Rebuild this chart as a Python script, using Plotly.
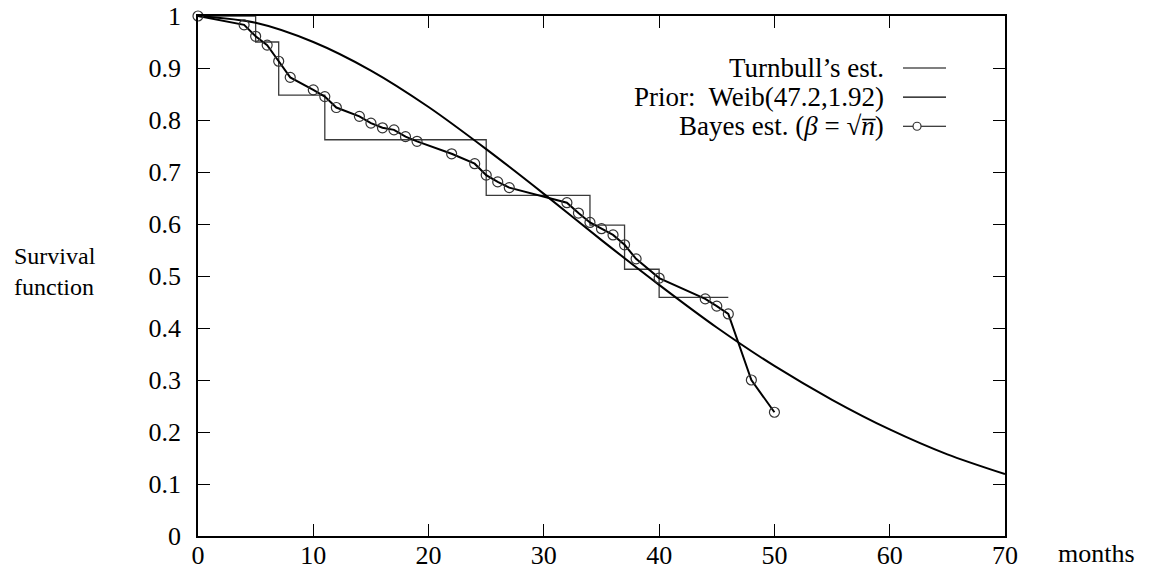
import plotly.graph_objects as go

# Turnbull's nonparametric estimate (step function)
turnbull_months = [0, 5, 7, 11, 25, 34, 37, 40, 46]
turnbull_surv = [1.0, 0.950, 0.848, 0.762, 0.655, 0.598, 0.513, 0.459, 0.459]

# Weibull prior survival curve, sampled every 5 months
prior_months = [0, 5, 10, 15, 20, 25, 30, 35, 40, 45, 50, 55, 60, 65, 70]
prior_surv = [1.0, 0.987, 0.950, 0.895, 0.825, 0.744, 0.658, 0.569,
              0.483, 0.401, 0.327, 0.262, 0.205, 0.157, 0.119]

# Bayes estimate with beta = sqrt(n)
bayes_months = [0, 4, 5, 6, 7, 8, 10, 11, 12, 14, 15, 16, 17, 18, 19, 22, 24,
                25, 26, 27, 32, 33, 34, 35, 36, 37, 38, 40, 44, 45, 46, 48, 50]
bayes_surv = [1.0, 0.983, 0.961, 0.944, 0.913, 0.882, 0.858, 0.845, 0.824,
              0.807, 0.794, 0.785, 0.781, 0.768, 0.759, 0.735, 0.716, 0.694,
              0.681, 0.670, 0.641, 0.621, 0.603, 0.591, 0.579, 0.560, 0.533,
              0.496, 0.456, 0.442, 0.427, 0.300, 0.238]

x_ticks = [0, 10, 20, 30, 40, 50, 60, 70]
y_ticks = [0, 0.1, 0.2, 0.3, 0.4, 0.5, 0.6, 0.7, 0.8, 0.9, 1]

legend_labels = ["Turnbull\u2019s est.", "Prior:  Weib(47.2,1.92)",
                 "Bayes est. (<i>\u03b2</i> = \u221a<i>n\u0305</i>)"]

FONT = "Liberation Serif"
FS = 26

fig = go.Figure()
fig.add_trace(go.Scatter(x=turnbull_months, y=turnbull_surv, mode="lines",
                         line=dict(color="#3a3a3a", width=1.3, shape="hv"),
                         cliponaxis=False, showlegend=False))
fig.add_trace(go.Scatter(x=prior_months, y=prior_surv, mode="lines",
                         line=dict(color="black", width=2, shape="spline", smoothing=0.8),
                         showlegend=False))
fig.add_trace(go.Scatter(x=bayes_months, y=bayes_surv, mode="lines+markers",
                         line=dict(color="black", width=2),
                         marker=dict(symbol="circle-open", size=10,
                                     color="#333333", line=dict(width=1.2)),
                         cliponaxis=False, showlegend=False))

axis_common = dict(showline=True, mirror="allticks", linecolor="black", linewidth=1.5,
                   ticks="inside", ticklen=12, tickwidth=1.2, tickcolor="black",
                   showgrid=False, zeroline=False, automargin=False,
                   tickfont=dict(family=FONT, size=FS, color="black"))

fig.update_xaxes(range=[0, 70], tickvals=x_ticks, ticktext=[str(v) for v in x_ticks],
                 ticklabelstandoff=-5, **axis_common)
fig.update_yaxes(range=[0, 1], tickvals=y_ticks,
                 ticktext=[("%g" % v) for v in y_ticks],
                 ticklabelstandoff=10, **axis_common)

# Legend: right-aligned labels with line samples on the right
rows_y = [0.900, 0.844, 0.788]
for label, yy in zip(legend_labels, rows_y):
    fig.add_annotation(x=0.8525, y=yy, xref="paper", yref="paper", text=label,
                       showarrow=False, xanchor="right", yanchor="middle",
                       font=dict(family=FONT, size=27, color="black"))
    fig.add_shape(type="line", xref="paper", yref="paper", x0=0.8736, x1=0.9269,
                  y0=yy, y1=yy, line=dict(color="black", width=1.2))
fig.add_shape(type="circle", xref="paper", yref="paper",
              x0=0.891 - 4 / 807, x1=0.891 + 4 / 807,
              y0=rows_y[2] - 4 / 520, y1=rows_y[2] + 4 / 520,
              fillcolor="white", line=dict(color="#333333", width=1.2))

# Axis titles
fig.add_annotation(x=-0.2305, y=0.508, xref="paper", yref="paper",
                   text="Survival<br>function", align="left",
                   showarrow=False, xanchor="left", yanchor="middle",
                   font=dict(family=FONT, size=24, color="black"))
fig.add_annotation(x=1.114, y=-0.033, xref="paper", yref="paper", text="months",
                   showarrow=False, xanchor="center", yanchor="middle",
                   font=dict(family=FONT, size=FS, color="black"))

fig.update_layout(width=1151, height=577,
                  margin=dict(l=198, r=146, t=16, b=41),
                  plot_bgcolor="white", paper_bgcolor="white",
                  showlegend=False)

fig.write_html("out.html")
